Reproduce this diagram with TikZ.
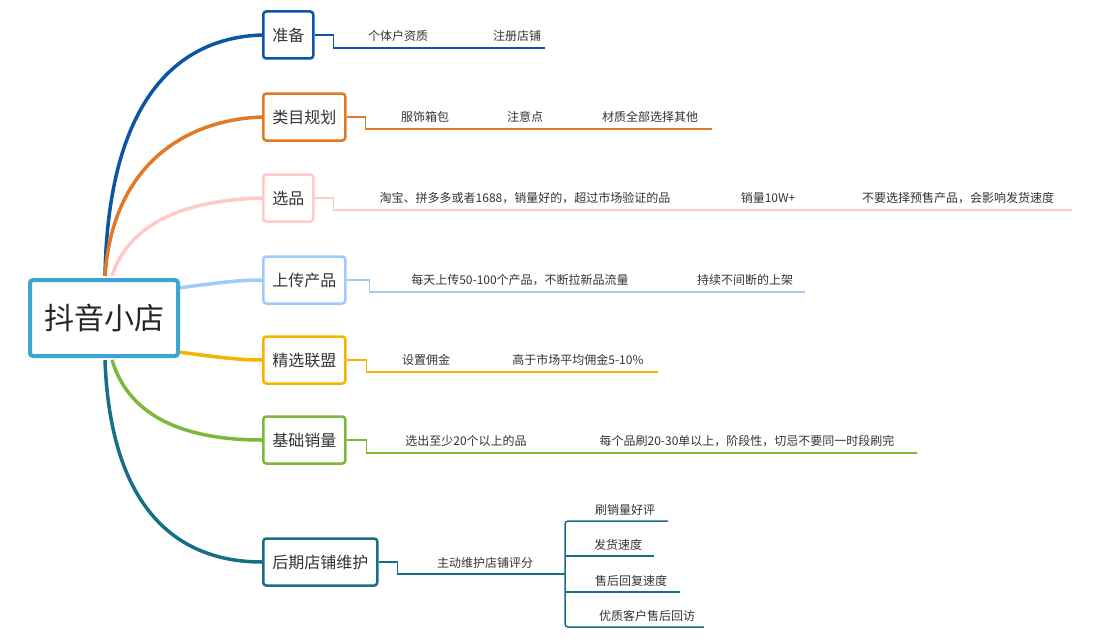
\documentclass[tikz,border=0pt]{standalone}
\usepackage{fontspec}
\setmainfont{Noto Sans CJK SC}
\begin{document}
\begin{tikzpicture}[x=1pt,y=-1pt,
  cat/.style={draw=#1,line width=2.5pt,rounded corners=3pt,fill=white,minimum height=47pt,inner xsep=9pt,font=\fontsize{16}{18}\selectfont,text=black!80},
  br/.style={line width=3.5pt,#1},
  sub/.style={line width=1.5pt,#1},
  lbl/.style={font=\fontsize{12}{14}\selectfont,text=black!80,anchor=base}]
\useasboundingbox (0,0) rectangle (1102,642);
\definecolor{cA}{HTML}{0B56A4}
\definecolor{cB}{HTML}{E07A26}
\definecolor{cC}{HTML}{FFC9CA}
\definecolor{cD}{HTML}{9ECBFA}
\definecolor{cE}{HTML}{F5B400}
\definecolor{cF}{HTML}{7DB83A}
\definecolor{cG}{HTML}{166F86}
\definecolor{cR}{HTML}{3BA6D0}
% curves
\coordinate (ra) at (105,276);
\coordinate (rb) at (112,276);
\coordinate (rc) at (112,360);
\coordinate (rd) at (105,360);
\coordinate (rl) at (178,288);
\coordinate (rm) at (178,352);
\node[cat=cA,anchor=west] (a) at (262,35) {准备};
\node[cat=cB,anchor=west] (b) at (262,117) {类目规划};
\node[cat=cC,anchor=west] (c) at (262,198) {选品};
\node[cat=cD,anchor=west] (d) at (262,280) {上传产品};
\node[cat=cE,anchor=west] (e) at (262,360) {精选联盟};
\node[cat=cF,anchor=west] (f) at (262,440) {基础销量};
\node[cat=cG,anchor=west] (g) at (262,562) {后期店铺维护};
\draw[br=cA] (ra) .. controls (108,110) and (170,38) .. (a.west);
\draw[br=cB] (ra) .. controls (112,170) and (180,120) .. (b.west);
\draw[br=cC] (rb) .. controls (130,220) and (190,200) .. (c.west);
\draw[br=cD] (rl) .. controls (210,284) and (235,280) .. (d.west);
\draw[br=cE] (rm) .. controls (210,356) and (235,360) .. (e.west);
\draw[br=cF] (rc) .. controls (130,420) and (190,440) .. (f.west);
\draw[br=cG] (rd) .. controls (110,500) and (170,562) .. (g.west);
\node[draw=cR,line width=4pt,rounded corners=3pt,fill=white,minimum width=148pt,minimum height=76pt,font=\fontsize{30}{34}\selectfont,text=black!85] (root) at (104,318) {抖音小店};
% sub lines
\coordinate (a1) at (545,48); \draw[sub=cA] (a.east) -- ++(19,0) |- (a1);
\coordinate (b1) at (712,129); \draw[sub=cB] (b.east) -- ++(19,0) |- (b1);
\coordinate (c1) at (1072,210); \draw[sub=cC] (c.east) -- ++(19,0) |- (c1);
\coordinate (d1) at (805,292); \draw[sub=cD] (d.east) -- ++(23,0) |- (d1);
\coordinate (e1) at (658,372); \draw[sub=cE] (e.east) -- ++(20,0) |- (e1);
\coordinate (f1) at (917,453); \draw[sub=cF] (f.east) -- ++(20,0) |- (f1);
\coordinate (g1) at (565,574); \draw[sub=cG] (g.east) -- ++(19,0) |- (g1);
\coordinate (h1) at (668,521); \coordinate (h2) at (654,556);
\coordinate (h3) at (680,592); \coordinate (h4) at (704,627);
\draw[sub=cG,rounded corners=3pt] (h1) -- (565,521) -- (565,627) -- (h4);
\draw[sub=cG] (565,556) -- (h2);
\draw[sub=cG] (565,592) -- (h3);
% labels
\node[lbl] (ta1) at (398,41) {个体户资质};
\node[lbl] (ta2) at (517,41) {注册店铺};
\node[lbl] (tb1) at (425,121) {服饰箱包};
\node[lbl] (tb2) at (525,121) {注意点};
\node[lbl] (tb3) at (650,121) {材质全部选择其他};
\node[lbl] (tc1) at (525,202) {淘宝、拼多多或者1688，销量好的，超过市场验证的品};
\node[lbl] (tc2) at (768,202) {销量10W+};
\node[lbl] (tc3) at (958,202) {不要选择预售产品，会影响发货速度};
\node[lbl] (td1) at (520,284) {每天上传50-100个产品，不断拉新品流量};
\node[lbl] (td2) at (745,284) {持续不间断的上架};
\node[lbl] (te1) at (426,364) {设置佣金};
\node[lbl] (te2) at (578,364) {高于市场平均佣金5-10\%};
\node[lbl] (tf1) at (466,445) {选出至少20个以上的品};
\node[lbl] (tf2) at (747,445) {每个品刷20-30单以上，阶段性，切忌不要同一时段刷完};
\node[lbl] (tg1) at (485,567) {主动维护店铺评分};
\node[lbl] (th1) at (625,514) {刷销量好评};
\node[lbl] (th2) at (618,549) {发货速度};
\node[lbl] (th3) at (631,585) {售后回复速度};
\node[lbl] (th4) at (647,620) {优质客户售后回访};
\end{tikzpicture}
\end{document}
